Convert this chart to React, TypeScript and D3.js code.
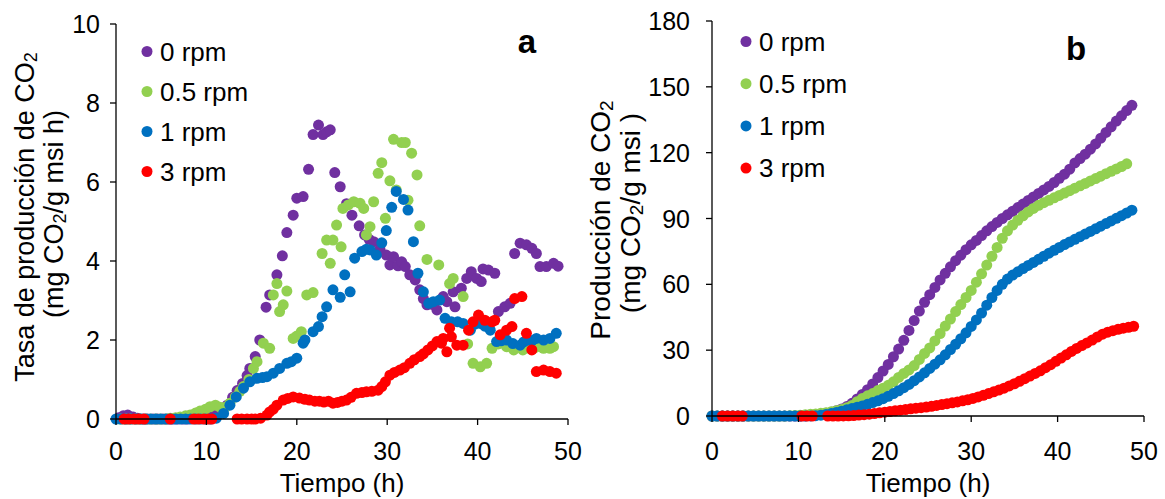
import React from 'react';
import * as d3 from 'd3';

type Pt = [number, number];

const seriesLabels = ['0 rpm', '0.5 rpm', '1 rpm', '3 rpm'];
const seriesColors = ['#7030A0', '#92D050', '#0070C0', '#FF0000'];
const xTicks = [0, 10, 20, 30, 40, 50];
const yTicksA = [0, 2, 4, 6, 8, 10];
const yTicksB = [0, 30, 60, 90, 120, 150, 180];

// Panel a: CO2 production rate (mg CO2 / g msi h)
const rate0: Pt[] = [[0.3,0.03],[0.8,0.08],[1.3,0.1],[1.9,0.05],[2.4,0.02],[3.0,0],[3.5,0],[4.1,0],[4.6,0],[5.2,0],[5.7,0],[6.3,0],[6.8,0],[7.4,0],[7.9,0],[8.5,0.02],[9.0,0.03],[9.6,0.05],[10.1,0.05],[10.7,0.08],[11.2,0.12],[11.8,0.2],[12.3,0.35],[12.9,0.55],[13.4,0.72],[14.0,0.9],[14.5,1.1],[14.8,1.28],[15.4,1.58],[15.9,2.0],[16.6,2.83],[17.0,3.14],[17.8,3.65],[18.4,4.13],[18.9,4.72],[19.6,5.16],[20.0,5.59],[20.7,5.63],[21.3,6.32],[21.8,7.2],[22.4,7.44],[22.9,7.2],[23.3,7.27],[23.7,7.32],[24.2,6.24],[24.8,5.88],[25.5,5.45],[26.1,5.16],[26.9,4.89],[27.5,4.66],[28.0,4.55],[28.5,4.49],[29.2,4.3],[29.9,4.15],[30.3,3.9],[30.7,4.11],[31.2,3.88],[31.6,3.98],[32.0,3.86],[32.5,3.65],[33.1,3.52],[33.6,3.27],[34.0,3.05],[34.4,2.89],[35.0,2.9],[35.5,2.76],[36.2,3.1],[36.6,2.97],[37.3,3.22],[37.5,2.84],[38.2,3.31],[38.8,3.56],[39.3,3.73],[39.9,3.56],[40.4,3.48],[40.6,3.8],[41.2,3.77],[41.9,3.69],[42.3,2.72],[43.0,2.84],[43.6,2.93],[44.1,4.19],[44.7,4.45],[45.4,4.41],[46.0,4.32],[46.5,4.19],[46.9,3.86],[47.6,3.86],[48.4,3.94],[48.9,3.87]];
const rate05: Pt[] = [[0.5,0],[1.1,0],[1.6,0],[2.2,0],[2.7,0],[3.3,0],[3.8,0],[4.4,0],[4.9,0],[5.5,0],[6.0,0.02],[6.6,0.03],[7.1,0.05],[7.7,0.08],[8.2,0.1],[8.8,0.15],[9.3,0.2],[9.9,0.25],[10.4,0.31],[11.0,0.35],[11.5,0.3],[12.1,0.3],[12.6,0.4],[13.2,0.56],[13.7,0.7],[14.1,0.82],[14.7,1.0],[15.2,1.28],[15.6,1.45],[16.3,1.92],[17.0,1.79],[17.4,3.14],[17.8,3.43],[18.1,2.72],[18.5,2.89],[18.9,3.24],[19.6,2.04],[20.0,2.1],[20.5,2.21],[21.1,3.14],[21.8,3.2],[22.8,4.19],[23.3,4.53],[23.7,3.94],[24.0,4.53],[24.4,4.91],[24.9,4.36],[25.1,5.33],[25.7,5.42],[26.3,5.5],[27.0,5.46],[27.4,5.33],[27.7,4.66],[28.1,4.87],[28.5,5.5],[29.0,6.22],[29.4,6.49],[29.8,5.08],[30.3,6.03],[30.7,7.08],[31.0,5.8],[31.6,7.0],[32.0,7.0],[32.3,5.54],[32.7,6.73],[33.3,6.18],[33.6,4.89],[34.4,4.04],[35.7,3.9],[36.9,3.43],[37.3,3.56],[38.4,3.1],[38.9,1.9],[39.5,1.41],[40.3,1.32],[41.0,1.41],[41.6,1.79],[42.3,1.9],[43.2,1.83],[44.0,1.75],[45.0,1.75],[45.6,1.8],[46.2,1.79],[46.9,1.83],[47.3,1.79],[48.0,1.79],[48.4,1.83]];
const rate1: Pt[] = [[0,0],[0.55,0],[1.1,0],[1.65,0],[2.2,0],[2.75,0],[3.3,0],[3.85,0],[4.4,0],[4.95,0],[5.5,0],[6.05,0],[6.6,0],[7.15,0],[7.7,0],[8.25,0],[8.8,0],[9.35,0],[9.9,0],[10.45,0],[11.1,0.02],[11.9,0.14],[12.6,0.35],[13.3,0.56],[14.1,0.78],[14.8,0.94],[15.6,1.03],[16.2,1.05],[16.7,1.07],[17.4,1.16],[18.1,1.28],[18.9,1.41],[19.4,1.45],[20.0,1.54],[20.7,1.92],[20.9,2.0],[21.8,2.21],[22.4,2.34],[22.8,2.59],[23.3,2.84],[24.0,3.27],[24.8,3.08],[25.3,3.65],[25.9,3.22],[26.4,4.07],[27.2,4.24],[27.7,4.3],[28.1,4.28],[28.8,4.15],[29.4,4.46],[29.9,4.77],[30.5,5.36],[31.0,5.76],[31.8,5.56],[32.3,5.29],[32.9,4.49],[33.4,3.69],[34.0,3.22],[34.6,2.93],[35.1,2.97],[35.8,3.01],[36.4,2.55],[37.1,2.46],[37.8,2.46],[38.4,2.42],[39.2,2.25],[39.7,2.4],[40.3,2.42],[40.8,2.35],[41.4,2.25],[42.1,1.96],[42.6,1.98],[43.2,2.0],[43.9,1.91],[44.7,1.87],[45.1,1.95],[45.6,2.0],[46.0,1.98],[46.5,2.04],[47.3,2.0],[48.0,2.04],[48.7,2.17]];
const rate3: Pt[] = [[0.9,0],[1.4,0],[2.0,0],[2.5,0],[3.1,0],[6.0,0],[8.6,0],[9.1,0],[9.7,0],[10.2,0],[10.6,0],[13.4,0],[13.9,0],[14.5,0],[15.0,0],[15.4,0],[16.0,0.02],[16.7,0.1],[17.0,0.18],[17.4,0.25],[17.8,0.35],[18.5,0.48],[19.0,0.52],[19.6,0.56],[20.3,0.53],[20.9,0.5],[21.4,0.48],[22.0,0.45],[22.5,0.45],[23.0,0.43],[23.5,0.45],[24.0,0.4],[24.5,0.42],[25.0,0.45],[25.5,0.48],[26.0,0.55],[26.6,0.65],[27.2,0.67],[27.7,0.69],[28.3,0.7],[29.0,0.73],[29.4,0.82],[29.8,0.94],[30.3,1.11],[30.8,1.18],[31.4,1.24],[31.9,1.3],[32.5,1.41],[33.0,1.5],[33.6,1.58],[34.0,1.65],[34.5,1.75],[35.0,1.85],[35.5,1.96],[36.0,1.92],[36.2,2.04],[36.6,1.7],[36.9,2.3],[37.1,2.08],[37.7,1.87],[38.4,1.87],[39.0,2.25],[39.5,2.46],[40.1,2.63],[40.8,2.5],[41.6,2.46],[41.9,2.5],[42.5,2.13],[43.2,2.25],[43.8,2.34],[44.1,3.05],[44.9,3.1],[45.4,2.17],[46.0,1.75],[46.5,1.2],[47.3,1.24],[48.0,1.2],[48.7,1.16]];

// Panel b: cumulative CO2 production (mg CO2 / g msi)
const cum0: Pt[] = [[0,0],[0.6,0],[1.2,0],[1.8,0],[2.4,0],[3.0,0],[3.6,0],[4.2,0],[4.8,0],[5.4,0],[6.0,0],[6.6,0],[7.2,0],[7.8,0],[8.4,0],[9.0,0],[9.6,0],[10.2,0],[10.8,0.1],[11.4,0.3],[12.0,0.5],[12.6,0.8],[13.2,1.2],[13.8,1.7],[14.4,2.4],[15.0,3.2],[15.6,4.3],[16.2,5.8],[16.8,7.8],[17.4,9.8],[18.0,12.0],[18.6,14.6],[19.2,17.5],[19.8,20.5],[20.4,23.5],[21.0,27.0],[21.6,30.5],[22.2,34.5],[22.8,39.0],[23.4,43.5],[24.0,47.8],[24.6,51.8],[25.2,55.3],[25.8,58.6],[26.4,62.0],[27.0,65.0],[27.6,68.0],[28.2,70.8],[28.8,73.3],[29.4,75.8],[30.0,78.0],[30.6,80.0],[31.2,82.2],[31.8,84.4],[32.4,86.3],[33.0,88.2],[33.6,90.0],[34.2,91.7],[34.8,93.3],[35.4,95.0],[36.0,96.6],[36.6,98.2],[37.2,99.8],[37.8,101.4],[38.4,103.0],[39.0,104.6],[39.6,106.4],[40.2,108.3],[40.8,110.2],[41.4,112.5],[42.0,115.3],[42.6,117.3],[43.2,119.3],[43.8,121.6],[44.4,124.0],[45.0,126.6],[45.6,129.2],[46.2,131.8],[46.8,134.4],[47.4,136.8],[48.0,139.2],[48.6,141.6]];
const cum05: Pt[] = [[0,0],[0.6,0],[1.2,0],[1.8,0],[2.4,0],[3.0,0],[3.6,0],[4.2,0],[4.8,0],[5.4,0],[6.0,0],[6.6,0],[7.2,0],[7.8,0],[8.4,0],[9.0,0.1],[9.6,0.2],[10.2,0.35],[10.8,0.55],[11.4,0.75],[12.0,0.95],[12.6,1.2],[13.2,1.5],[13.8,1.9],[14.4,2.4],[15.0,3.0],[15.6,3.8],[16.2,4.8],[16.8,6.5],[17.4,8.0],[18.0,9.2],[18.6,10.2],[19.2,11.6],[19.8,12.7],[20.4,14.0],[21.0,15.6],[21.6,17.6],[22.2,19.4],[22.8,21.0],[23.4,23.0],[24.0,25.8],[24.6,28.5],[25.2,31.0],[25.8,34.2],[26.4,37.6],[27.0,41.0],[27.6,44.2],[28.2,47.6],[28.8,50.8],[29.4,54.0],[30.0,57.2],[30.6,61.0],[31.2,64.8],[31.8,68.8],[32.4,72.8],[33.0,76.8],[33.6,81.0],[34.2,84.4],[34.8,87.0],[35.4,89.2],[36.0,91.2],[36.6,93.0],[37.2,94.6],[37.8,96.0],[38.4,97.2],[39.0,98.3],[39.6,99.4],[40.2,100.5],[40.8,101.6],[41.4,102.7],[42.0,103.8],[42.6,104.9],[43.2,106.0],[43.8,107.1],[44.4,108.2],[45.0,109.3],[45.6,110.4],[46.2,111.5],[46.8,112.6],[47.4,113.7],[48.0,114.9]];
const cum1: Pt[] = [[0,0],[0.6,0],[1.2,0],[1.8,0],[2.4,0],[3.0,0],[3.6,0],[4.2,0],[4.8,0],[5.4,0],[6.0,0],[6.6,0],[7.2,0],[7.8,0],[8.4,0],[9.0,0],[9.6,0],[10.2,0],[10.8,0],[11.4,0.05],[12.0,0.15],[12.6,0.35],[13.2,0.7],[13.8,1.1],[14.4,1.6],[15.0,2.2],[15.6,2.8],[16.2,3.4],[16.8,4.0],[17.4,4.6],[18.0,5.3],[18.6,6.1],[19.2,6.9],[19.8,7.9],[20.4,9.0],[21.0,10.2],[21.6,11.5],[22.2,12.9],[22.8,14.4],[23.4,16.1],[24.0,17.8],[24.6,19.7],[25.2,21.7],[25.8,23.6],[26.4,25.6],[27.0,27.9],[27.6,30.3],[28.2,32.7],[28.8,35.2],[29.4,37.9],[30.0,40.8],[30.6,43.8],[31.2,46.9],[31.8,50.5],[32.4,54.0],[33.0,57.2],[33.6,60.0],[34.2,62.4],[34.8,64.2],[35.4,65.7],[36.0,67.2],[36.6,68.6],[37.2,70.0],[37.8,71.4],[38.4,72.8],[39.0,74.2],[39.6,75.5],[40.2,76.8],[40.8,78.1],[41.4,79.3],[42.0,80.5],[42.6,81.7],[43.2,82.9],[43.8,84.1],[44.4,85.3],[45.0,86.5],[45.6,87.7],[46.2,88.9],[46.8,90.1],[47.4,91.3],[48.0,92.5],[48.6,93.8]];
const cum3: Pt[] = [[1.2,0],[1.8,0],[2.4,0],[3.0,0],[3.5,0],[10.4,0],[11.0,0],[11.6,0],[13.4,0],[14.0,0],[14.6,0],[15.2,0.05],[15.8,0.1],[16.4,0.2],[17.0,0.4],[17.6,0.6],[18.2,0.85],[18.8,1.1],[19.4,1.45],[20.0,1.75],[20.6,2.05],[21.2,2.35],[21.8,2.65],[22.4,2.95],[23.0,3.25],[23.6,3.55],[24.2,3.8],[24.8,4.1],[25.4,4.4],[26.0,4.8],[26.6,5.2],[27.2,5.6],[27.8,6.0],[28.4,6.4],[29.0,6.9],[29.6,7.4],[30.2,8.0],[30.8,8.7],[31.4,9.4],[32.0,10.2],[32.6,11.0],[33.2,11.8],[33.8,12.7],[34.4,13.7],[35.0,14.7],[35.6,15.8],[36.2,17.0],[36.8,18.2],[37.4,19.4],[38.0,20.6],[38.6,22.0],[39.2,23.4],[39.8,24.9],[40.4,26.4],[41.0,27.9],[41.6,29.4],[42.2,30.8],[42.8,32.1],[43.4,33.3],[44.0,34.6],[44.6,36.0],[45.2,37.3],[45.8,38.2],[46.4,38.9],[47.0,39.5],[47.6,40.0],[48.2,40.4],[48.8,40.9]];

const rateSeries = [rate0, rate05, rate1, rate3];
const cumSeries = [cum0, cum05, cum1, cum3];

const FONT = "'Liberation Sans', Arial, Helvetica, sans-serif";
const R = 5.5;

interface PanelProps {
  x: d3.ScaleLinear<number, number>;
  y: d3.ScaleLinear<number, number>;
  yTicks: number[];
  series: Pt[][];
  labelGap: number;
  legendX: number;
  legendY0: number;
  legendStep: number;
  letter: string;
  letterX: number;
  letterY: number;
}

function Panel(p: PanelProps) {
  const [x0, x1] = p.x.range();
  const [yb, yt] = p.y.range();
  return (
    <g>
      {p.series.map((s, i) => (
        <g key={i} fill={seriesColors[i]}>
          {s.map((d, j) => (
            <circle key={j} cx={p.x(d[0])} cy={p.y(d[1])} r={R} />
          ))}
        </g>
      ))}
      <line x1={x0} x2={x0} y1={yt} y2={yb} stroke="#000" strokeWidth={1.3} />
      <line x1={x0} x2={x1} y1={yb} y2={yb} stroke="#000" strokeWidth={1.3} />
      {p.yTicks.map((t) => (
        <g key={'y' + t}>
          <line x1={x0 - 6} x2={x0} y1={p.y(t)} y2={p.y(t)} stroke="#000" strokeWidth={1.3} />
          <text x={x0 - p.labelGap} y={p.y(t)} textAnchor="end" dominantBaseline="central" fontSize={25}>{t}</text>
        </g>
      ))}
      {xTicks.map((t) => (
        <g key={'x' + t}>
          <line x1={p.x(t)} x2={p.x(t)} y1={yb} y2={yb + 6} stroke="#000" strokeWidth={1.3} />
          <text x={p.x(t)} y={451} textAnchor="middle" dominantBaseline="central" fontSize={25}>{t}</text>
        </g>
      ))}
      <text x={(x0 + x1) / 2} y={492} textAnchor="middle" fontSize={26}>Tiempo (h)</text>
      {seriesLabels.map((l, i) => (
        <g key={l}>
          <circle cx={p.legendX} cy={p.legendY0 + i * p.legendStep} r={R} fill={seriesColors[i]} />
          <text x={p.legendX + 13} y={p.legendY0 + i * p.legendStep} dominantBaseline="central" fontSize={26}>{l}</text>
        </g>
      ))}
      <text x={p.letterX} y={p.letterY} textAnchor="middle" fontSize={33} fontWeight="bold">{p.letter}</text>
    </g>
  );
}

export default function App() {
  const xA = d3.scaleLinear().domain([0, 50]).range([116, 568]);
  const yA = d3.scaleLinear().domain([0, 10]).range([419, 24]);
  const xB = d3.scaleLinear().domain([0, 50]).range([712, 1144]);
  const yB = d3.scaleLinear().domain([0, 180]).range([416, 21]);

  return (
    <svg width={1165} height={499} style={{ position: 'absolute', left: 0, top: 0, background: '#fff' }} fontFamily={FONT}>
      <rect x={0} y={0} width={1165} height={499} fill="#fff" />
      <Panel x={xA} y={yA} yTicks={yTicksA} series={rateSeries} labelGap={16}
        legendX={147} legendY0={51.5} legendStep={40} letter="a" letterX={527} letterY={53} />
      <Panel x={xB} y={yB} yTicks={yTicksB} series={cumSeries} labelGap={22}
        legendX={746} legendY0={41.5} legendStep={42.2} letter="b" letterX={1076} letterY={60} />
      <g textAnchor="middle" dominantBaseline="central">
        <text fontSize={27} transform="translate(25,217) rotate(-90)">
          Tasa de producción de CO<tspan fontSize={18} dy={6}>2</tspan>
        </text>
        <text fontSize={27} transform="translate(54,214) rotate(-90)">
          (mg CO<tspan fontSize={18} dy={6}>2</tspan><tspan dy={-6}>/g msi h)</tspan>
        </text>
        <text fontSize={28} transform="translate(600,220) rotate(-90)">
          Producción de CO<tspan fontSize={19} dy={6}>2</tspan>
        </text>
        <text fontSize={28} transform="translate(630,213) rotate(-90)">
          (mg CO<tspan fontSize={19} dy={6}>2</tspan><tspan dy={-6}>/g msi )</tspan>
        </text>
      </g>
    </svg>
  );
}
